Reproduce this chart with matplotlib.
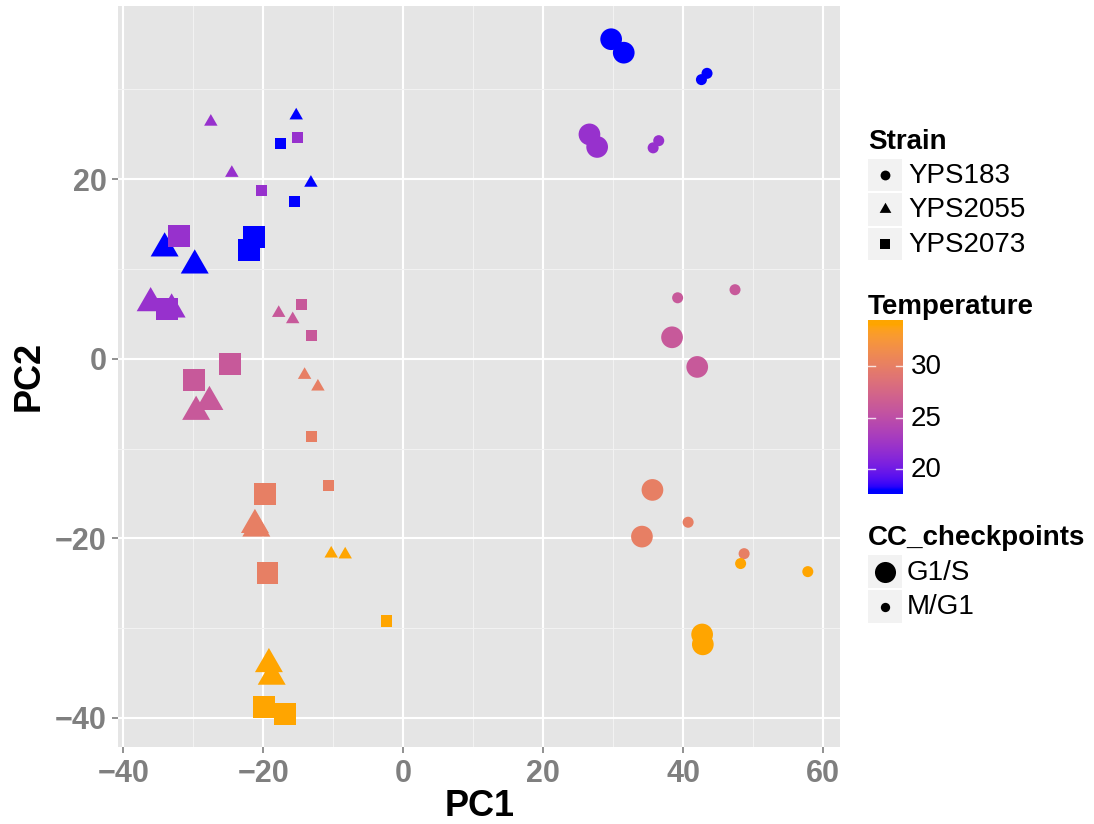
import numpy as np
import matplotlib
matplotlib.use("Agg")
from matplotlib import pyplot as plt
from matplotlib.patches import Rectangle
from matplotlib.path import Path

plt.rcParams['font.family'] = ['Liberation Sans', 'DejaVu Sans']

# data: PC1, PC2, temperature
# YPS183 (circles)
c_big_x = [29.7, 31.5, 26.6, 27.7, 38.4, 42.0, 35.6, 34.1, 42.7, 42.8]
c_big_y = [35.6, 34.1, 25.0, 23.6, 2.4, -0.9, -14.6, -19.8, -30.7, -31.8]
c_big_t = [18, 18, 22, 22, 26, 26, 30, 30, 34, 34]
c_sml_x = [42.6, 43.4, 35.7, 36.5, 39.2, 47.4, 40.7, 48.7, 48.2, 57.8]
c_sml_y = [31.1, 31.8, 23.5, 24.3, 6.8, 7.7, -18.2, -21.7, -22.8, -23.7]
c_sml_t = [18, 18, 22, 22, 26, 26, 30, 30, 34, 34]
# YPS2055 (triangles)
t_big_x = [-34.1, -29.8, -36.1, -33.1, -27.7, -29.6, -21.0, -21.2, -19.2, -18.8]
t_big_y = [12.3, 10.4, 6.2, 5.5, -4.8, -5.9, -18.9, -18.5, -34.0, -35.4]
t_big_t = [18, 18, 22, 22, 26, 26, 30, 30, 34, 34]
t_sml_x = [-15.3, -13.2, -27.5, -24.5, -17.8, -15.8, -14.1, -12.2, -10.3, -8.3]
t_sml_y = [27.1, 19.6, 26.4, 20.7, 5.1, 4.4, -1.8, -3.1, -21.7, -21.8]
t_sml_t = [18, 18, 22, 22, 26, 26, 30, 30, 34, 34]
# YPS2073 (squares)
s_big_x = [-21.3, -22.0, -32.1, -33.7, -24.7, -29.9, -19.7, -19.4, -19.9, -16.9]
s_big_y = [13.6, 12.1, 13.7, 5.5, -0.6, -2.4, -15.1, -23.8, -38.8, -39.6]
s_big_t = [18, 18, 22, 22, 26, 26, 30, 30, 34, 34]
s_sml_x = [-17.5, -15.5, -15.1, -20.2, -14.5, -13.1, -13.1, -10.7, -2.4]
s_sml_y = [24.0, 17.5, 24.6, 18.8, 6.1, 2.6, -8.7, -14.1, -29.2]
s_sml_t = [18, 18, 22, 22, 26, 26, 30, 30, 34]

strains = ['YPS183', 'YPS2055', 'YPS2073']
checkpoints = ['G1/S', 'M/G1']
temp_ticks = [20, 25, 30]

# colour scale blue -> orange, interpolated in Lab like ggplot
M = np.array([[0.4124, 0.3576, 0.1805], [0.2126, 0.7152, 0.0722], [0.0193, 0.1192, 0.9505]])
WHITE = np.array([0.95047, 1.0, 1.08883])

def to_lab(rgb):
    c = np.asarray(rgb, float)
    lin = np.where(c <= 0.04045, c / 12.92, ((c + 0.055) / 1.055) ** 2.4)
    xyz = M @ lin / WHITE
    f = np.where(xyz > (6 / 29) ** 3, np.cbrt(xyz), xyz / (3 * (6 / 29) ** 2) + 4 / 29)
    return np.array([116 * f[1] - 16, 500 * (f[0] - f[1]), 200 * (f[1] - f[2])])

def from_lab(lab):
    L, a, b = lab
    fy = (L + 16) / 116
    f = np.array([fy + a / 500, fy, fy - b / 200])
    xyz = np.where(f > 6 / 29, f ** 3, 3 * (6 / 29) ** 2 * (f - 4 / 29)) * WHITE
    lin = np.linalg.solve(M, xyz)
    lin = np.clip(lin, 0, 1)
    c = np.where(lin <= 0.0031308, 12.92 * lin, 1.055 * lin ** (1 / 2.4) - 0.055)
    return tuple(np.clip(c, 0, 1))

LOW = to_lab((0, 0, 1))
HIGH = to_lab((1, 165 / 255, 0))
TMIN, TMAX = 18, 34

def tcol(t):
    u = np.clip((t - TMIN) / (TMAX - TMIN), 0, 1)
    return from_lab(LOW + (HIGH - LOW) * u)

tri = Path([(-1, -0.577), (1, -0.577), (0, 1.155), (-1, -0.577)],
           [Path.MOVETO, Path.LINETO, Path.LINETO, Path.CLOSEPOLY])

fig = plt.figure(figsize=(10.94, 8.24), dpi=100)
ax = fig.add_axes([118.3 / 1094, 1 - 746.7 / 824, (840 - 118.3) / 1094, (746.7 - 6) / 824])
ax.set_facecolor('#E5E5E5')
for sp in ax.spines.values():
    sp.set_visible(False)
ax.set_xlim(-40.72, 62.4)
ax.set_ylim(-43.2, 39.3)
ax.set_xticks([-40, -20, 0, 20, 40, 60])
ax.set_yticks([-40, -20, 0, 20])
ax.set_xticks([-30, -10, 10, 30, 50], minor=True)
ax.set_yticks([-30, -10, 10, 30], minor=True)
ax.grid(which='major', color='white', lw=1.5)
ax.grid(which='minor', color='#F2F2F2', lw=0.8)
ax.set_axisbelow(True)
ax.tick_params(which='major', length=4.5, width=1.2, color='#7F7F7F', pad=4,
               labelsize=22, labelcolor='#7F7F7F')
ax.tick_params(which='minor', length=0)
for lab in ax.get_xticklabels() + ax.get_yticklabels():
    lab.set_fontweight('bold')
ax.set_xlabel('PC1', fontsize=26, fontweight='bold', labelpad=0)
ax.set_ylabel('PC2', fontsize=26, fontweight='bold', labelpad=6)

BIG_C, SML_C = 244, 63
BIG_S, SML_S = 250, 63
BIG_T, SML_T = 540, 125

ax.scatter(c_big_x, c_big_y, s=BIG_C, marker='o', c=[tcol(t) for t in c_big_t], lw=0, zorder=3)
ax.scatter(c_sml_x, c_sml_y, s=SML_C, marker='o', c=[tcol(t) for t in c_sml_t], lw=0, zorder=3)
ax.scatter(t_big_x, t_big_y, s=BIG_T, marker=tri, c=[tcol(t) for t in t_big_t], lw=0, zorder=4)
ax.scatter(t_sml_x, t_sml_y, s=SML_T, marker=tri, c=[tcol(t) for t in t_sml_t], lw=0, zorder=4)
ax.scatter(s_big_x, s_big_y, s=BIG_S, marker='s', c=[tcol(t) for t in s_big_t], lw=0, zorder=5)
ax.scatter(s_sml_x, s_sml_y, s=SML_S, marker='s', c=[tcol(t) for t in s_sml_t], lw=0, zorder=5)

# legends drawn on an overlay in pixel coordinates
lg = fig.add_axes([0, 0, 1, 1], zorder=10)
lg.set_xlim(0, 1094)
lg.set_ylim(824, 0)
lg.axis('off')
lg.patch.set_alpha(0)

KX0, KX1 = 868, 901.5
lab_x = 908

lg.text(KX0, 149, 'Strain', fontsize=20, fontweight='bold', va='baseline')
strain_marks = [('o', 50), (tri, 95), ('s', 45)]
for i, name in enumerate(strains):
    y0 = 158.5 + i * 34.5
    lg.add_patch(Rectangle((KX0, y0), KX1 - KX0, 32.5, color='#F2F2F2', lw=0))
    yc = y0 + 16.25
    lg.scatter([(KX0 + KX1) / 2], [yc], s=strain_marks[i][1], marker=strain_marks[i][0], c='black', lw=0)
    lg.text(lab_x, yc + 1, name, fontsize=20, va='center')

lg.text(KX0, 314, 'Temperature', fontsize=20, fontweight='bold', va='baseline')
bar_top, bar_bot = 321, 494.3
pad = (TMAX - TMIN) / 38
vals = np.linspace(TMAX + pad, TMIN - pad, 200)
grad = np.array([[tcol(v)] for v in vals])
lg.imshow(grad, extent=(KX0, 902.7, bar_bot, bar_top), aspect='auto', interpolation='bilinear')
for t in temp_ticks:
    yt = bar_bot - (t - (TMIN - pad)) / (TMAX - TMIN + 2 * pad) * (bar_bot - bar_top)
    lg.plot([KX0, KX0 + 6.5], [yt, yt], color='white', lw=1, alpha=0.8)
    lg.plot([902.7 - 6.5, 902.7], [yt, yt], color='white', lw=1, alpha=0.8)
    lg.text(910.5, yt + 1, str(t), fontsize=20, va='center')

lg.text(KX0, 545, 'CC_checkpoints', fontsize=20, fontweight='bold', va='baseline')
cc_sizes = [230, 45]
for i, name in enumerate(checkpoints):
    y0 = 555 + i * 35
    lg.add_patch(Rectangle((KX0, y0), KX1 - KX0, 33, color='#F2F2F2', lw=0))
    yc = y0 + 16.5
    lg.scatter([(KX0 + KX1) / 2], [yc], s=cc_sizes[i], marker='o', c='black', lw=0)
    lg.text(lab_x - 1.5, yc + 1, name, fontsize=20, va='center')
lg.set_xlim(0, 1094)
lg.set_ylim(824, 0)

fig.savefig('out.png', dpi=100)
